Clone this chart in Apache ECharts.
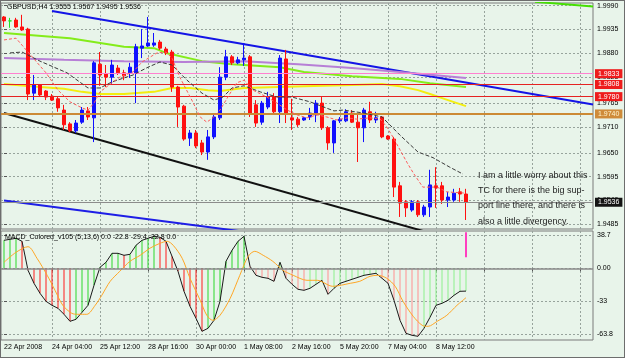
<!DOCTYPE html>
<html>
<head>
<meta charset="utf-8">
<script src="https://cdn.jsdelivr.net/npm/echarts@6/dist/echarts.min.js"></script>
<style>
html,body{margin:0;padding:0;background:#e8f4ea;overflow:hidden}
#chart{position:absolute;left:0;top:0;width:625px;height:358px}
#frame{position:absolute;left:0;top:0;width:623px;height:356px;border:1px solid #6d6d6d;pointer-events:none}
</style>
</head>
<body>
<div id="chart"></div><div id="frame"></div>
<script>
// ---------------- data ----------------
const symbolName = 'GBPUSD,H4';
const timeLabels = ['22 Apr 2008','24 Apr 04:00','25 Apr 12:00','28 Apr 16:00','30 Apr 00:00','1 May 08:00','2 May 16:00','5 May 20:00','7 May 04:00','8 May 12:00'];
const labelBars = [0,8,16,24,32,40,48,56,64,72];
const gridBars = [8,16,24,32,40,48,56,64,72,80,88,96];
const priceTicks = [1.9990,1.9935,1.9880,1.9825,1.9765,1.9710,1.9650,1.9595,1.9540,1.9485];

const candleOpen  = [1.9964,1.9955,1.9957,1.9941,1.9936,1.9788,1.9807,1.9793,1.9781,1.9775,1.9749,1.9717,1.9701,1.9721,1.9747,1.9731,1.9855,1.9832,1.9825,1.9846,1.9835,1.9835,1.9835,1.9892,1.9897,1.9899,1.9906,1.9890,1.9883,1.9802,1.9758,1.9684,1.9696,1.9673,1.9652,1.9687,1.9731,1.9825,1.9872,1.9858,1.9865,1.9872,1.9761,1.9721,1.9756,1.9779,1.9745,1.9867,1.9731,1.9728,1.9726,1.9733,1.9738,1.9765,1.9708,1.9673,1.9724,1.9724,1.9742,1.9721,1.9708,1.9745,1.9726,1.9733,1.9689,1.9682,1.9574,1.9537,1.9518,1.9537,1.9507,1.9525,1.9574,1.9574,1.9541,1.9541,1.9560,1.9555];
const candleHigh  = [1.9966,1.9962,1.9962,1.9969,1.9939,1.9830,1.9809,1.9795,1.9786,1.9779,1.9761,1.9721,1.9726,1.9756,1.9756,1.9862,1.9883,1.9853,1.9865,1.9853,1.9842,1.9858,1.9902,1.9936,1.9964,1.9927,1.9911,1.9895,1.9888,1.9805,1.9761,1.9703,1.9703,1.9680,1.9703,1.9742,1.9848,1.9888,1.9876,1.9872,1.9904,1.9876,1.9772,1.9770,1.9791,1.9788,1.9876,1.9888,1.9775,1.9733,1.9733,1.9754,1.9772,1.9779,1.9712,1.9726,1.9733,1.9751,1.9749,1.9738,1.9754,1.9768,1.9745,1.9735,1.9691,1.9687,1.9583,1.9541,1.9541,1.9541,1.9530,1.9611,1.9617,1.9583,1.9560,1.9567,1.9569,1.9567];
const candleLow   = [1.9941,1.9939,1.9939,1.9932,1.9772,1.9772,1.9781,1.9772,1.9770,1.9745,1.9703,1.9698,1.9696,1.9717,1.9726,1.9675,1.9805,1.9802,1.9807,1.9830,1.9818,1.9823,1.9765,1.9869,1.9895,1.9895,1.9888,1.9876,1.9791,1.9710,1.9678,1.9666,1.9661,1.9645,1.9634,1.9682,1.9726,1.9818,1.9853,1.9855,1.9851,1.9733,1.9710,1.9715,1.9751,1.9740,1.9719,1.9719,1.9703,1.9710,1.9724,1.9726,1.9721,1.9703,1.9657,1.9650,1.9719,1.9721,1.9719,1.9629,1.9675,1.9719,1.9719,1.9684,1.9680,1.9548,1.9502,1.9502,1.9514,1.9502,1.9502,1.9502,1.9523,1.9532,1.9525,1.9537,1.9537,1.9495];
const candleClose = [1.9955,1.9955,1.9941,1.9934,1.9786,1.9807,1.9784,1.9779,1.9772,1.9754,1.9715,1.9701,1.9719,1.9749,1.9733,1.9858,1.9830,1.9825,1.9853,1.9835,1.9828,1.9848,1.9895,1.9897,1.9904,1.9904,1.9892,1.9881,1.9802,1.9756,1.9682,1.9696,1.9666,1.9652,1.9687,1.9733,1.9825,1.9872,1.9858,1.9865,1.9869,1.9742,1.9719,1.9765,1.9779,1.9745,1.9869,1.9742,1.9726,1.9715,1.9731,1.9742,1.9765,1.9708,1.9673,1.9724,1.9728,1.9745,1.9721,1.9708,1.9749,1.9726,1.9731,1.9687,1.9682,1.9571,1.9534,1.9523,1.9537,1.9507,1.9525,1.9576,1.9569,1.9541,1.9548,1.9557,1.9555,1.9536];

// moving averages [bar, price]
const maLime   = [[0,1.9927],[11,1.9915],[20,1.9895],[25,1.9892],[27,1.9881],[33,1.9862],[38,1.9855],[46,1.9848],[50,1.9837],[58,1.9827],[66,1.9821],[71,1.9811],[77,1.9802]];
const maPurple = [[0,1.9869],[10,1.9865],[20,1.9862],[30,1.9860],[40,1.9862],[49,1.9855],[58,1.9846],[66,1.9837],[77,1.9823]];
const maYellow = [[0,1.9809],[6,1.9802],[10,1.9798],[13,1.9791],[16,1.9786],[20,1.9786],[25,1.9791],[28,1.9800],[31,1.9800],[34,1.9795],[36,1.9793],[40,1.9800],[50,1.9804],[58,1.9807],[63,1.9809],[66,1.9804],[69,1.9795],[71,1.9786],[74,1.9772],[77,1.9758]];
const maBlack  = [[1,1.9881],[3,1.9883],[6,1.9862],[10.5,1.9835],[14,1.9800],[16,1.9800],[18,1.9814],[21.5,1.9830],[24,1.9848],[26,1.9860],[28,1.9853],[30.5,1.9818],[33,1.9788],[35,1.9772],[36.5,1.9779],[38,1.9800],[40,1.9805],[42.7,1.9791],[45.5,1.9779],[48,1.9779],[51,1.9768],[55,1.9747],[56.5,1.9749],[60,1.9742],[63,1.9733],[66,1.9691],[69,1.9652],[71.5,1.9639],[74.3,1.9617],[76.5,1.9601]];
const maRed    = [[0,1.9911],[2,1.9915],[3,1.9899],[6,1.9851],[7,1.9835],[9,1.9795],[11,1.9768],[13,1.9754],[14,1.9749],[15,1.9765],[16,1.9791],[18,1.9812],[19.3,1.9825],[21.5,1.9837],[23,1.9860],[25.5,1.9881],[27,1.9883],[28,1.9869],[29.3,1.9825],[31.3,1.9772],[32.7,1.9733],[33.8,1.9721],[34.8,1.9731],[36,1.9749],[37.7,1.9788],[38.8,1.9812],[40,1.9818],[41.5,1.9795],[43.8,1.9779],[45.5,1.9765],[47.2,1.9749],[48.8,1.9738],[50.5,1.9731],[52.2,1.9738],[53.8,1.9733],[55.5,1.9726],[57.2,1.9731],[58.8,1.9728],[61,1.9731],[62.7,1.9728],[63.8,1.9710],[64.8,1.9687],[66,1.9657],[67.2,1.9627],[68.2,1.9604],[69.8,1.9571],[72.2,1.9571],[73.8,1.9560],[77,1.9557]];

// trend lines [bar, price]
const trendBlueUpper = [[8,1.9978],[98.17,1.9762]];
const trendBlack     = [[0,1.9742],[70,1.9469]];
const trendBlueLower = [[0,1.9540],[40,1.9468]];
const trendLimeTop   = [[88.5,1.9999],[98.17,1.9988]];

// horizontal levels
const levelPrices = [1.9833,1.9808,1.9780,1.9740,1.9536];

// MACD
const macdValues = [28,29,30,27,-2,-15,-25,-33,-37,-40,-46,-53,-51,-44,-37,-17,1,6,15,15,13,14,23,28,30,32,31,27,12,-3,-23,-38,-50,-63,-60,-52,-33,7,18,27,32,2,-7,-9,-10,-13,6,-10,-16,-21,-22,-20,-16,-12,-26,-20,-15,-13,-11,-9,-7,-6,-5,-10,-15,-32,-52,-65,-67,-68,-60,-49,-37,-35,-32,-27,-23,-22.8];
const macdSignal = [[0,6],[2,16],[4,21.6],[5.5,10],[7.2,-7],[8.5,-22],[9.8,-37],[11.3,-45],[12.3,-46],[13.8,-46],[15.2,-37],[16.3,-27],[17.7,-13],[19.3,-3],[21,7],[22.7,13],[24.3,20],[26,25],[27.2,27],[28.2,23],[29.7,10],[31,-10],[32.7,-32],[33.8,-47],[34.8,-52],[36,-47],[37.7,-30],[39.3,-7],[40.7,12],[41.8,17],[43.2,13],[44.8,7],[46.5,-2],[48.2,-7],[50.5,-12],[52.2,-12],[54.8,-18],[57.7,-15],[59.3,-13],[61,-8],[62.3,-7],[63.8,-10],[65.2,-18],[66.5,-33],[68.2,-48],[69.7,-57],[70.7,-58],[72.2,-53],[73.8,-47],[75.5,-37],[77,-29.4]];
const macdTickValues = [33,0,-33,-66];
const macdTickLabels = ['38.7','0.00','-33','-63.8'];
const macdMarkBars = [0,10,18,24,32,42,49,51,53,58,66];
const macdMarkText = ['VT','RB','VT','RT','RB','VB','RB','TC','RB','RB','RB'];
const pinkMark = [[77,36],[77,11]];
const countMark = [[77.7,-17,'3']];

const noteText = 'I am a little worry about this\nTC for there is the big sup-\nport line there, and there is\nalso a little divergency.';

// ---------------- chart ----------------
const FONT = '"Liberation Sans", Arial, sans-serif';
const LIGHT_FROM = 41;
const last = candleClose.length - 1;
const titleText = symbolName + ' ' + candleOpen[last].toFixed(4) + ' ' + candleHigh[last].toFixed(4) + ' ' + candleLow[last].toFixed(4) + ' ' + candleClose[last].toFixed(4);
const macdTitle = 'MACD_Colored_v105 (5,13,6) 0.0 ' + macdValues[last].toFixed(1) + ' ' + macdSignal[macdSignal.length-1][1].toFixed(1) + ' ' + macdValues[last].toFixed(1) + ' 0.0';

const candleData = candleOpen.map((o,i)=>[i,o,candleClose[i],candleLow[i],candleHigh[i]]);
const XMAX = 592/6 - 0.5;

const levelStyles = [
  {line:'#ff80d0', w:1, box:'#ee1c1c', txt:'#ffffff'},
  {line:'#e52222', w:1, box:'#ee1c1c', txt:'#ffffff'},
  {line:'#e52222', w:1, box:'#ee1c1c', txt:'#ffffff'},
  {line:'#cc8a35', w:2, box:'#cf8b3a', txt:'#fff6cf'},
  {line:'#8c8c8c', w:1, box:'#141414', txt:'#ffffff'}
];

function mkLine(data, color, width, type, z){
  return {type:'line', xAxisIndex:0, yAxisIndex:0, data, symbol:'none', showSymbol:false, silent:true,
          lineStyle:{color, width, type}, z: z||3};
}
const gridSplit = {show:true, lineStyle:{color:'#97a39c', width:1, type:[2,2]}};

const option = {
  animation:false,
  backgroundColor:'#e8f4ea',
  textStyle:{fontFamily:FONT},
  grid:[
    {left:1, top:3, width:592, height:226, show:true, borderColor:'#7a7a7a', borderWidth:1, backgroundColor:'transparent'},
    {left:1, top:231, width:592, height:109, show:true, borderColor:'#7a7a7a', borderWidth:1, backgroundColor:'transparent'}
  ],
  xAxis:[
    {type:'value', gridIndex:0, min:-0.5, max:XMAX, axisLine:{show:false},
     axisTick:{show:false, customValues:gridBars}, axisLabel:{show:false}, splitLine:gridSplit},
    {type:'value', gridIndex:1, min:-0.5, max:XMAX, axisLine:{show:false},
     axisTick:{show:true, length:3, customValues:gridBars, lineStyle:{color:'#555'}},
     axisLabel:{show:true, customValues:labelBars, formatter:v=>{const k=labelBars.indexOf(v);return k>=0?timeLabels[k]:'';},
                align:'left', fontSize:7, color:'#000', margin:4, fontFamily:FONT},
     splitLine:gridSplit}
  ],
  yAxis:[
    {type:'value', gridIndex:0, position:'right', min:1.94742, max:1.99963, scale:true, axisLine:{show:false},
     axisTick:{show:true, length:3, customValues:priceTicks, lineStyle:{color:'#555'}},
     axisLabel:{customValues:priceTicks, formatter:v=>v.toFixed(4), fontSize:7, color:'#000', margin:4, fontFamily:FONT},
     splitLine:gridSplit},
    {type:'value', gridIndex:1, position:'right', min:-71.7, max:37.3, axisLine:{show:false},
     axisTick:{show:true, length:3, customValues:macdTickValues, lineStyle:{color:'#555'}},
     axisLabel:{customValues:macdTickValues, formatter:v=>{const k=macdTickValues.indexOf(v);return k>=0?macdTickLabels[k]:'';}, fontSize:7, color:'#000', margin:4, fontFamily:FONT},
     splitLine:gridSplit}
  ],
  graphic:[
    {type:'text', x:7, y:7, z:100, style:{text:titleText, fontSize:7, fontFamily:FONT, fill:'#000', verticalAlign:'middle'}},
    {type:'text', x:5, y:237, z:100, style:{text:macdTitle, fontSize:7, fontFamily:FONT, fill:'#000', verticalAlign:'middle'}},
    {type:'text', x:478, y:167.5, z:100, style:{text:noteText, fontSize:9, fontFamily:FONT, fill:'#1e1e1e', lineHeight:15.3, verticalAlign:'top'}}
  ],
  series:[
    // horizontal levels
    {type:'line', xAxisIndex:0, yAxisIndex:0, data:[], silent:true, z:2,
     markLine:{symbol:['none','none'], silent:true, animation:false, precision:6,
       data: levelPrices.map((p,k)=>({yAxis:p,
         lineStyle:{color:levelStyles[k].line, width:levelStyles[k].w, type:'solid'},
         label:{show:true, position:'end', distance:2, formatter:p.toFixed(4), backgroundColor:levelStyles[k].box,
                color:levelStyles[k].txt, padding:[1,3,1,3], fontSize:7, fontFamily:FONT}}))}},
    // trend lines
    mkLine(trendBlueUpper,'#1414e6',2,'solid',2),
    mkLine(trendBlack,'#111111',2,'solid',2),
    mkLine(trendBlueLower,'#1e1ee6',2,'solid',2),
    mkLine(trendLimeTop,'#44e000',2,'solid',2),
    // moving averages
    mkLine(maLime,'#84ec1a',2,'solid',3),
    mkLine(maPurple,'#b77fd6',2,'solid',3),
    mkLine(maYellow,'#f2ee10',2,'solid',3),
    // candles
    {type:'candlestick', xAxisIndex:0, yAxisIndex:0, data:candleData, encode:{x:0, y:[1,2,3,4]},
     barWidth:3, silent:true, z:4,
     itemStyle:{color:'#1010ff', color0:'#ff1010', borderColor:'#1010ff', borderColor0:'#ff1010', borderColorDoji:'#22e022', borderWidth:1}},
    mkLine(maBlack,'#3a3a3a',1,[4,2],5),
    mkLine(maRed,'#ff5a5a',1,[3,2],5),
    // MACD histogram
    {type:'bar', xAxisIndex:1, yAxisIndex:1, barWidth:1, silent:true, z:2,
     data: macdValues.map((v,i)=>[i,v]),
     itemStyle:{color:p=>{const i=p.data[0];const v=p.data[1];const prev=i>0?macdValues[i-1]:v-1;const up=v>=prev;const light=i>=LIGHT_FROM;
       return up?(light?'#8cf08c':'#2ad82a'):(light?'#ff9090':'#ff1c1c');}},
     markLine:{symbol:['none','none'], silent:true, precision:6, label:{show:false}, data:[{yAxis:0, lineStyle:{color:'#8a8a8a', width:1.5, type:'solid'}}]}},
    {type:'line', xAxisIndex:1, yAxisIndex:1, data:macdValues.map((v,i)=>[i,v]), symbol:'none', silent:true, z:4,
     lineStyle:{color:'#1a1a1a', width:1}},
    {type:'line', xAxisIndex:1, yAxisIndex:1, data:macdSignal, symbol:'none', silent:true, z:4, smooth:0.3,
     lineStyle:{color:'#ffa726', width:1}},
    {type:'line', xAxisIndex:1, yAxisIndex:1, data:pinkMark, symbol:'none', silent:true, z:4,
     lineStyle:{color:'#ff3ec0', width:2}},
    {type:'scatter', xAxisIndex:1, yAxisIndex:1, silent:true, z:6, symbolSize:1, itemStyle:{opacity:0},
     data: macdMarkBars.map((b,k)=>({value:[b,0], name:macdMarkText[k],
       label:{show:true, position:[-1,2], formatter:macdMarkText[k], align:'left',
              fontSize:(macdMarkText[k]==='VT'||macdMarkText[k]==='RT')?10:8,
              color:(macdMarkText[k]==='VT'||macdMarkText[k]==='RT')?'#2f1f55':'#1a1a1a', fontFamily:FONT}}))},
    {type:'scatter', xAxisIndex:1, yAxisIndex:1, silent:true, z:6, symbolSize:1, itemStyle:{opacity:0},
     data: countMark.map(d=>({value:[d[0],d[1]], label:{show:true, position:'inside', formatter:d[2], fontSize:11, color:'#111', fontFamily:FONT}}))}
  ]
};

const chart = echarts.init(document.getElementById('chart'), null, {renderer:'canvas'});
chart.setOption(option);
</script>
</body>
</html>
